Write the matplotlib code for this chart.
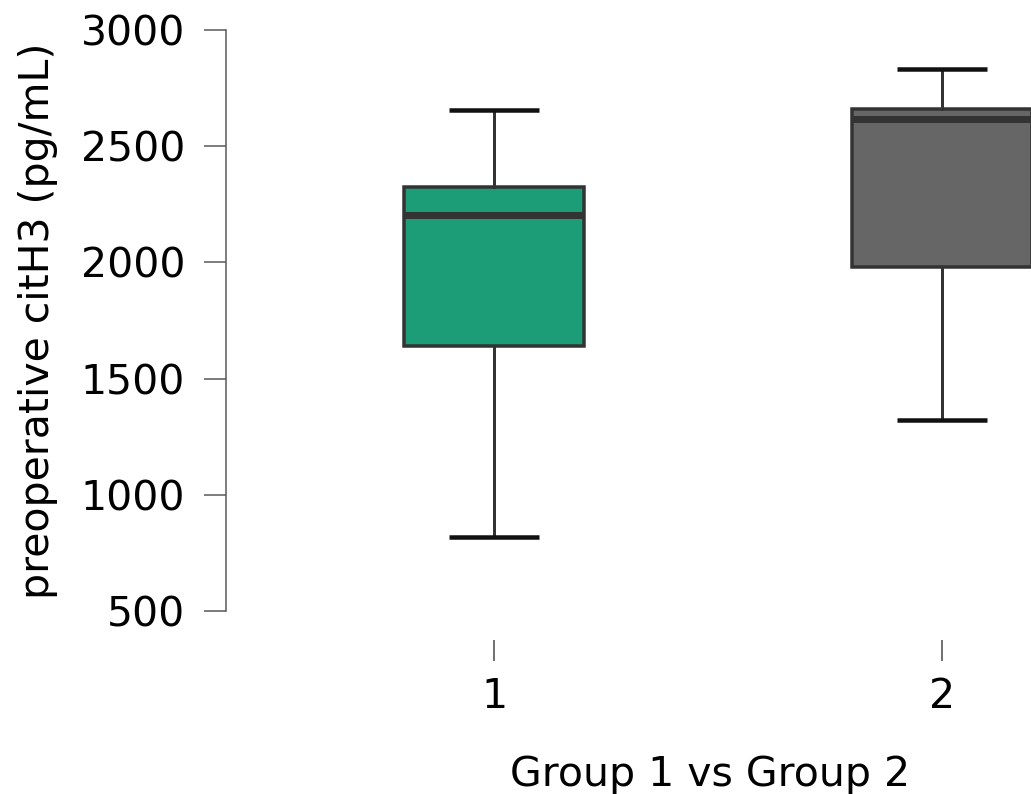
#! /usr/bin/env python3

import matplotlib.pyplot as plt

GROUPS = ['1', '2']
POSITIONS = [1, 2]
WHISKER_LOW = [818, 1322]
Q1 = [1640, 1980]
MEDIAN = [2206, 2615]
Q3 = [2324, 2658]
WHISKER_HIGH = [2656, 2832]
FILL_COLORS = ['#1d9c78', '#666666']
Y_TICKS = [500, 1000, 1500, 2000, 2500, 3000]

PX = 72 / 100  # points per pixel at dpi 100

plt.rcParams['font.family'] = ['DejaVu Sans']

fig = plt.figure(figsize=(10.31, 7.94), dpi=100)
ax = fig.add_axes([226 / 1031, (794 - 611) / 794, 805 / 1031, 581 / 794])

stats = []
for i, name in enumerate(GROUPS):
    stats.append({'label': name, 'whislo': WHISKER_LOW[i], 'q1': Q1[i],
                  'med': MEDIAN[i], 'q3': Q3[i], 'whishi': WHISKER_HIGH[i],
                  'fliers': []})

parts = ax.bxp(stats, positions=POSITIONS, widths=0.4, capwidths=0.2,
               patch_artist=True, showfliers=False,
               boxprops=dict(edgecolor='#333333', linewidth=3.5 * PX),
               medianprops=dict(color='#333333', linewidth=7 * PX,
                                solid_capstyle='butt'),
               whiskerprops=dict(color='#333333', linewidth=3 * PX),
               capprops=dict(color='#111111', linewidth=4.5 * PX,
                             solid_capstyle='butt'))
for box, color in zip(parts['boxes'], FILL_COLORS):
    box.set_facecolor(color)

ax.set_xlim(1 - 268 / 448, 2 + 89 / 448)
ax.set_ylim(500, 3000)
ax.set_yticks(Y_TICKS)
ax.set_xticks(POSITIONS)
ax.set_xticklabels(GROUPS)

for side in ['top', 'right', 'bottom']:
    ax.spines[side].set_visible(False)
ax.spines['bottom'].set_position(('outward', 29 * PX))
ax.spines['left'].set_bounds(500, 3000)
ax.spines['left'].set_color('#555555')
ax.spines['left'].set_linewidth(1.5 * PX)

ax.tick_params(axis='y', length=22 * PX, width=1.5 * PX, color='#555555',
               pad=19 * PX, labelsize=29.5)
ax.tick_params(axis='x', length=21 * PX, width=1.5 * PX, color='#444444',
               pad=16 * PX, labelsize=29.5)

ax.set_ylabel('preoperative citH3 (pg/mL)', fontsize=29.5)
ax.yaxis.label.set_va('center')
ax.yaxis.set_label_coords((38 - 226) / 805, 0.5)

ax.set_xlabel('Group 1 vs Group 2', fontsize=29.5)
ax.xaxis.set_label_coords((710 - 226) / 805, -(755 - 611) / 581)

fig.savefig('out.png', dpi=100)
